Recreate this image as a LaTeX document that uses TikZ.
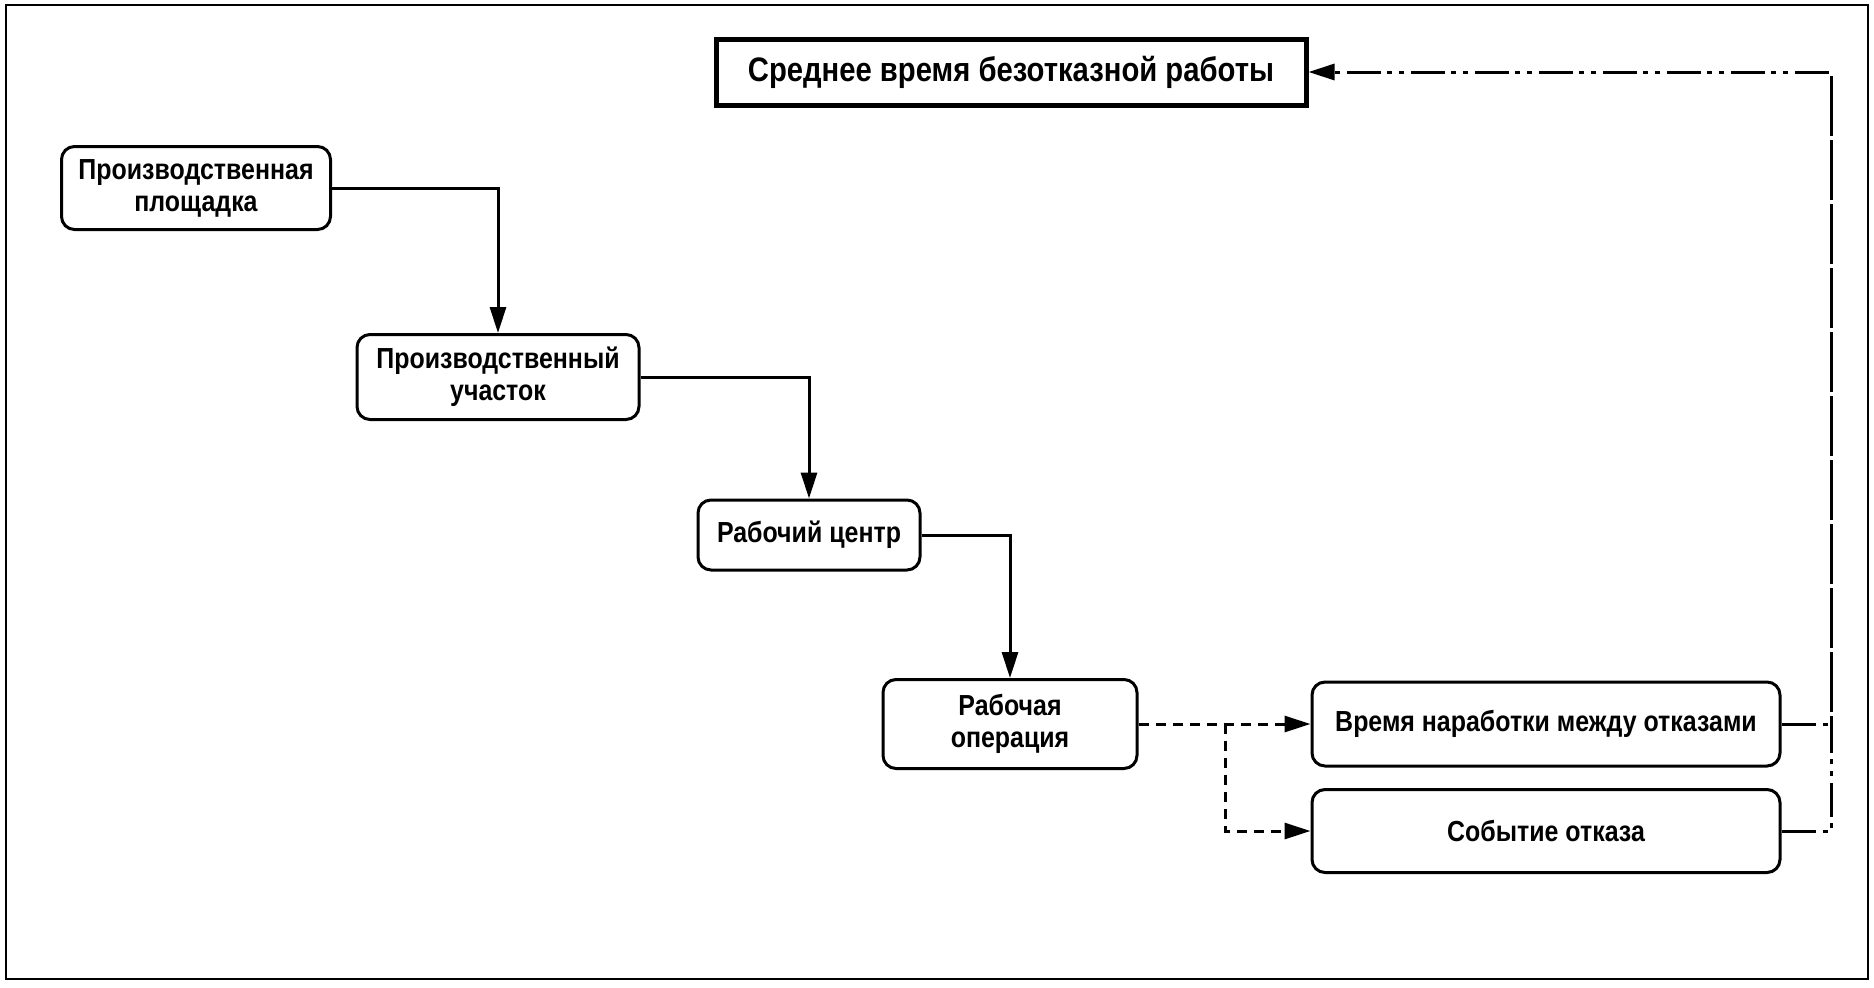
\documentclass[tikz,border=0pt]{standalone}
\usepackage{fontspec}
\newfontfamily\diagfont{Liberation Sans}[FakeStretch=0.86]
\usetikzlibrary{arrows.meta}
\tikzstyle{unit}=[rectangle,rounded corners=6.5pt,draw=black,line width=1.5pt,inner sep=0pt,align=center,font=\diagfont\bfseries\fontsize{14.5}{16}\selectfont]
\tikzstyle{target}=[rectangle,draw=black,line width=2.5pt,inner sep=0pt,font=\diagfont\bfseries\fontsize{17}{19}\selectfont]
\tikzstyle{link}=[-{Triangle[length=13pt,width=8pt]},line width=1.5pt]
\tikzstyle{feed}=[-{Triangle[length=13pt,width=8pt]},line width=1.5pt,dash pattern=on 5pt off 3.5pt]
\tikzstyle{back}=[line width=1.5pt,dash pattern=on 17pt off 3.5pt on 2.5pt off 3.5pt on 2.5pt off 3pt]

\begin{document}
\begin{tikzpicture}[x=0.5pt,y=-0.5pt]
                    \useasboundingbox (0,0) rectangle (1874,987);
                    \draw [line width=1.25pt] (6,5) rectangle (1868,979);

                    \node (a) at (1011,72) [target,minimum width=295pt,minimum height=33pt] {Среднее время безотказной работы};
                    \node (p) at (196,188) [unit,minimum width=134.5pt,minimum height=41.5pt] {Производственная\\площадка};
                    \node (u) at (498,377) [unit,minimum width=141pt,minimum height=42.5pt] {Производственный\\участок};
                    \node (c) at (809,535) [unit,minimum width=111pt,minimum height=35pt] {Рабочий центр};
                    \node (o) at (1010,724) [unit,minimum width=127pt,minimum height=44.5pt] {Рабочая\\операция};
                    \node (t) at (1546,724) [unit,minimum width=234pt,minimum height=42pt] {Время наработки между отказами};
                    \node (e) at (1546,831) [unit,minimum width=234pt,minimum height=41.5pt] {Событие отказа};
                    \coordinate (b) at (1225,724);
                    \coordinate (r) at (1831,72);

                    \draw [link] (p.east) -| (u.north);
                    \draw [link] (u.east) -| (c.north);
                    \draw [link] (c.east) -| (o.north);
                    \draw [feed] (o.east) -- (t.west);
                    \draw [feed] (b) |- (e.west);
                    \draw [back,-{Triangle[length=13pt,width=8pt]}] (t.east) -| (r) -- (a.east);
                    \draw [back] (e.east) -| (r);
                \end{tikzpicture}
\end{document}
